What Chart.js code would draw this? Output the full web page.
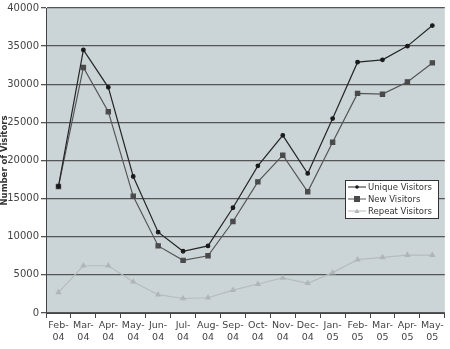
<!DOCTYPE html>
<html>
<head>
<meta charset="utf-8">
<script src="https://cdn.jsdelivr.net/npm/chart.js@4.4.0/dist/chart.umd.min.js"></script>
<style>
  html, body { margin: 0; padding: 0; background: #fff; }
  #wrap { width: 450px; height: 349px; position: relative; }
</style>
</head>
<body>
<div id="wrap"><canvas id="chart" width="450" height="349"></canvas></div>
<script>
const months = [
  ['Feb-', '04'], ['Mar-', '04'], ['Apr-', '04'], ['May-', '04'], ['Jun-', '04'], ['Jul-', '04'],
  ['Aug-', '04'], ['Sep-', '04'], ['Oct-', '04'], ['Nov-', '04'], ['Dec-', '04'], ['Jan-', '05'],
  ['Feb-', '05'], ['Mar-', '05'], ['Apr-', '05'], ['May-', '05']
];
const uniqueVisitors = [16600, 34500, 29600, 17900, 10600, 8100, 8800, 13800, 19300, 23300, 18300, 25500, 32900, 33200, 35000, 37700];
const newVisitors = [16600, 32200, 26400, 15300, 8800, 6900, 7500, 12000, 17200, 20700, 15900, 22400, 28800, 28700, 30300, 32800];
const repeatVisitors = [2700, 6200, 6200, 4100, 2400, 1900, 2000, 3000, 3800, 4600, 3900, 5300, 7000, 7300, 7600, 7600];

const font = 'DejaVu Sans';

// plot area fill
const plotBg = {
  id: 'plotBg',
  beforeDraw(chart) {
    const { ctx, chartArea: a } = chart;
    ctx.save();
    ctx.fillStyle = '#cbd5d8';
    ctx.fillRect(a.left, a.top, a.right - a.left, a.bottom - a.top);
    ctx.restore();
  }
};

// legend box inside the plot, drawn from dataset labels
const boxLegend = {
  id: 'boxLegend',
  afterDatasetsDraw(chart) {
    const { ctx } = chart;
    const x = 345, y = 180, w = 93, h = 38;
    ctx.save();
    ctx.fillStyle = '#fff';
    ctx.fillRect(x, y, w, h);
    ctx.strokeStyle = '#333';
    ctx.lineWidth = 1;
    ctx.strokeRect(x + 0.5, y + 0.5, w, h);
    ctx.font = '8.5px ' + font;
    ctx.textBaseline = 'middle';
    chart.data.datasets.forEach((ds, i) => {
      const ly = y + 7 + i * 12;
      ctx.strokeStyle = ds.borderColor;
      ctx.beginPath();
      ctx.moveTo(x + 3, ly);
      ctx.lineTo(x + 21, ly);
      ctx.stroke();
      ctx.fillStyle = ds.pointBackgroundColor;
      const r = ds.pointRadius;
      if (ds.pointStyle === 'rect') {
        ctx.fillRect(x + 12 - r, ly - r, r * 2, r * 2);
      } else if (ds.pointStyle === 'triangle') {
        ctx.beginPath();
        ctx.moveTo(x + 12, ly - r);
        ctx.lineTo(x + 12 + r, ly + r * 0.8);
        ctx.lineTo(x + 12 - r, ly + r * 0.8);
        ctx.closePath();
        ctx.fill();
      } else {
        ctx.beginPath();
        ctx.arc(x + 12, ly, r, 0, Math.PI * 2);
        ctx.fill();
      }
      ctx.fillStyle = '#333';
      ctx.fillText(ds.label, x + 23, ly + 0.5);
    });
    ctx.restore();
  }
};

new Chart(document.getElementById('chart'), {
  type: 'line',
  data: {
    labels: months,
    datasets: [
      { label: 'Unique Visitors', data: uniqueVisitors, borderColor: '#262626', pointBackgroundColor: '#1a1a1a', pointBorderColor: '#1a1a1a', pointStyle: 'circle', pointRadius: 1.8, borderWidth: 1.2 },
      { label: 'New Visitors', data: newVisitors, borderColor: '#555', pointBackgroundColor: '#4a4a4a', pointBorderColor: '#4a4a4a', pointStyle: 'rect', pointRadius: 3, borderWidth: 1.2 },
      { label: 'Repeat Visitors', data: repeatVisitors, borderColor: '#b5bcbe', pointBackgroundColor: '#b0b6b8', pointBorderColor: '#b0b6b8', pointStyle: 'triangle', pointRadius: 2.5, borderWidth: 1.2 }
    ]
  },
  options: {
    responsive: false,
    animation: false,
    layout: { padding: { top: 6, right: 2, left: 0, bottom: 2 } },
    plugins: { legend: { display: false }, tooltip: { enabled: false } },
    scales: {
      x: {
        offset: true,
        afterFit: s => { s.height = 34; },
        grid: { offset: true, drawOnChartArea: false, color: '#444', tickLength: 5, tickWidth: 1 },
        border: { color: '#444', width: 1 },
        ticks: { color: '#444', font: { family: font, size: 9.5 }, maxRotation: 0, autoSkip: false, padding: 2 }
      },
      y: {
        min: 0, max: 40000,
        afterFit: s => { s.width = 46; },
        ticks: { stepSize: 5000, color: '#444', font: { family: font, size: 10 }, padding: 2, callback: v => String(v) },
        grid: { color: '#555', lineWidth: 1.3, tickLength: 5 },
        border: { color: '#444', width: 1 },
        title: { display: true, text: 'Number of Visitors', color: '#333', font: { family: font, size: 8.5, weight: 'bold' }, padding: 0 }
      }
    }
  },
  plugins: [plotBg, boxLegend]
});
</script>
</body>
</html>
